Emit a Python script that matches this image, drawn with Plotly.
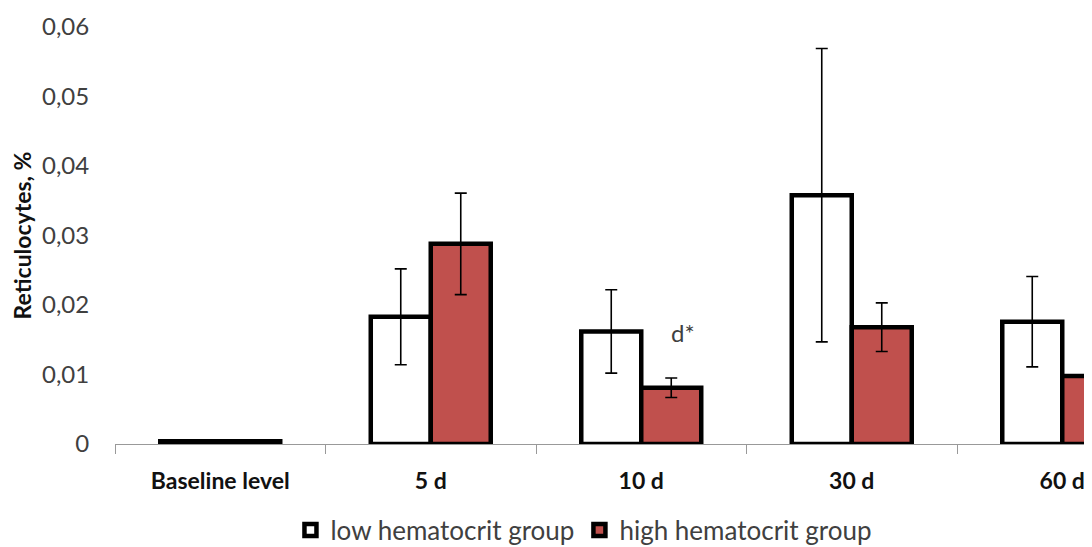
import plotly.graph_objects as go

categories = ["Baseline level", "5 d", "10 d", "30 d", "60 d"]
low_values = [0.0004, 0.0183, 0.0162, 0.0358, 0.0176]
low_errors = [0.0, 0.0069, 0.0060, 0.0211, 0.0065]
high_values = [0.0004, 0.0288, 0.0081, 0.0168, 0.0098]
high_errors = [0.0, 0.0073, 0.0014, 0.0035, 0.0024]
y_ticks = [0, 0.01, 0.02, 0.03, 0.04, 0.05, 0.06]
y_tick_labels = ["0", "0,01", "0,02", "0,03", "0,04", "0,05", "0,06"]

font_family = "Lato, 'Open Sans', sans-serif"
text_color = "#404040"

# page body has an 8px default margin: the figure sits at (8, 8)
W, H = 1084, 580
L, T = 107, 19
PLOT_BOTTOM = 436          # figure coords of the zero line
B = H - PLOT_BOTTOM
PLOT_H = PLOT_BOTTOM - T

fig = go.Figure()
fig.add_trace(go.Bar(
    name="low hematocrit group",
    x=categories, y=low_values,
    marker=dict(color="white", line=dict(color="black", width=4.5)),
    error_y=dict(type="data", array=low_errors, color="black", thickness=1.6, width=6),
))
fig.add_trace(go.Bar(
    name="high hematocrit group",
    x=categories, y=high_values,
    marker=dict(color="#C0504D", line=dict(color="black", width=4.5)),
    error_y=dict(type="data", array=high_errors, color="black", thickness=1.6, width=6),
))

fig.add_annotation(
    x="10 d", y=0.016, xref="x", yref="y", text="d*", showarrow=False,
    xshift=42, font=dict(family=font_family, size=24, color=text_color),
)

legend_center = 522        # figure coords
fig.update_layout(
    width=W, height=H,
    margin=dict(l=L, r=0, t=T, b=B),
    paper_bgcolor="white", plot_bgcolor="white",
    barmode="group", bargap=0.43, bargroupgap=0,
    showlegend=True,
    legend=dict(
        orientation="h", x=0.48, xanchor="center",
        y=-(legend_center - PLOT_BOTTOM) / PLOT_H, yanchor="middle",
        font=dict(family=font_family, size=26, color=text_color),
        itemwidth=30, tracegroupgap=0,
    ),
    font=dict(family=font_family, color=text_color),
)

fig.update_xaxes(
    type="category",
    range=[-0.5, -0.5 + (W - L) / 210.5],
    showline=True, linecolor="#999999", linewidth=1,
    ticks="outside", tickson="boundaries", ticklen=9, tickcolor="#999999", tickwidth=1,
    tickfont=dict(family=font_family, size=23, color="#111111", weight="bold"),
    ticklabelstandoff=16,
    showgrid=False, zeroline=False,
)
fig.update_yaxes(
    range=[0, 0.06],
    tickvals=y_ticks, ticktext=y_tick_labels,
    showline=False, showgrid=False, zeroline=False,
    ticks="outside", ticklen=20, tickcolor="rgba(0,0,0,0)",
    tickfont=dict(family=font_family, size=24, color=text_color),
    title=dict(text="Reticulocytes, %", standoff=10,
               font=dict(family=font_family, size=23, color="#111111", weight="bold")),
)

fig.write_html("out.html")
